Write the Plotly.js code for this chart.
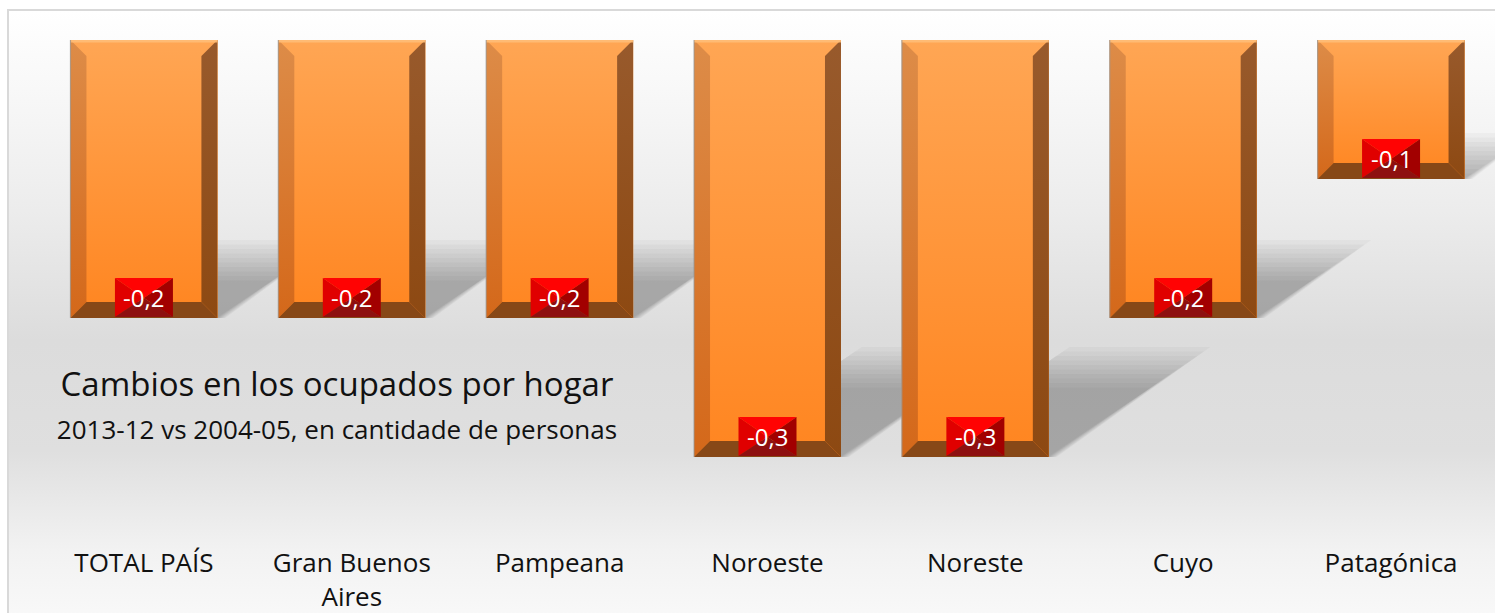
<!DOCTYPE html>
<html>
<head>
<meta charset="utf-8">
<script src="https://cdn.plot.ly/plotly-3.0.1.min.js"></script>
<style>
  html, body { margin:0; padding:0; width:1495px; height:613px; overflow:hidden; background:#ffffff; }
  #frame { position:absolute; left:7px; top:9px; width:1500px; height:620px; border:2px solid #d9d9d9;
    background: linear-gradient(to bottom, #ffffff 0px, #f6f6f6 100px, #ececec 200px, #dcdcdc 330px, #dfdfdf 440px, #f2f2f2 540px, #fafafa 620px); }
  #chart { position:absolute; left:0; top:0; width:1495px; height:613px; }
</style>
</head>
<body>
<div id="frame"></div>
<div id="chart"></div>
<script>
// ---- data ----
const categories = ['TOTAL PAÍS', 'Gran Buenos<br>Aires', 'Pampeana', 'Noroeste', 'Noreste', 'Cuyo', 'Patagónica'];
const values = [-0.2, -0.2, -0.2, -0.3, -0.3, -0.2, -0.1];
const titleMain = 'Cambios en los ocupados por hogar';
const titleSub = '2013-12 vs 2004-05, en cantidade de personas';

// ---- layout geometry ----
const W = 1495, H = 613;
const M = {l: 40, r: 0, t: 40, b: 68};
const plotW = W - M.l - M.r, plotH = H - M.t - M.b;
const xRange = [-0.5, categories.length - 0.5];
const yRange = [-0.3633, 0];
const ppx = plotW / (xRange[1] - xRange[0]);
const ppy = plotH / (yRange[1] - yRange[0]);
const barFrac = 0.707;
const hw = barFrac / 2;
const bx = 16 / ppx, by = 16 / ppy;
const idx = categories.map((_, i) => i);
const fmt = v => v.toFixed(1).replace('.', ',');

const traces = [];
// main bars
traces.push({
  type: 'bar', x: idx, y: values, width: barFrac,
  marker: {color: '#ff9535', line: {width: 0}},
  hoverinfo: 'skip', showlegend: false
});

function poly(xs, ys, grad, solid) {
  const t = {
    type: 'scatter', mode: 'lines', x: xs.concat([xs[0]]), y: ys.concat([ys[0]]),
    fill: 'toself', line: {width: 0, color: 'rgba(0,0,0,0)'},
    hoverinfo: 'skip', showlegend: false
  };
  if (grad) t.fillgradient = {type: 'vertical', colorscale: grad};
  else t.fillcolor = solid;
  return t;
}

values.forEach((v, i) => {
  const x0 = i - hw, x1 = i + hw;
  traces.push(poly([x0, x1, x1, x0], [0, 0, v, v], [[0, '#ff8520'], [1, '#ffa654']]));
  traces.push(poly([x0, x0 + bx, x0 + bx, x0], [0, -by, v + by, v], [[0, '#d4681a'], [1, '#dd8c48']]));
  traces.push(poly([x1, x1 - bx, x1 - bx, x1], [0, -by, v + by, v], [[0, '#8d4912'], [1, '#985a2c']]));
  traces.push(poly([x0, x0 + bx, x1 - bx, x1], [v, v + by, v + by, v], null, '#874817'));
});

const shapes = [];
// soft shadows behind bars (layered for blur)
values.forEach((v, i) => {
  const x0 = i - hw, x1 = i + hw;
  const hPx = 0.23 * Math.abs(v) * ppy;
  const N = 10;
  for (let k = 0; k < N; k++) {
    const hk = hPx + 14 - k * 4.5;
    const sk = 1.47 * hk;
    const yTop = v + hk / ppy;
    const shift = sk / ppx;
    const xl = x0 + 6 / ppx;
    shapes.push({
      type: 'path', layer: 'below', xref: 'x', yref: 'y',
      path: `M${xl},${v} L${x1 + (8 - k) / ppx},${v} L${x1 + shift},${yTop} L${xl + shift},${yTop} Z`,
      fillcolor: 'rgba(0,0,0,0.026)', line: {width: 0}
    });
  }
});
// top highlight, left edge line + label boxes
values.forEach((v, i) => {
  const x0 = i - hw, x1 = i + hw;
  shapes.push({type: 'line', xref: 'x', yref: 'y', x0: x0, x1: x1, y0: -1 / ppy, y1: -1 / ppy,
    line: {color: 'rgba(255,190,120,0.9)', width: 3}, layer: 'above'});
  shapes.push({type: 'line', xref: 'x', yref: 'y', x0: x0, x1: x0, y0: 0, y1: v,
    line: {color: 'rgba(150,150,150,0.7)', width: 1.2}, layer: 'above'});
  const tri = [
    ['M-29,40 L29,40 L0,20 Z', '#ff0303'],
    ['M-29,40 L-29,1 L0,20 Z', '#e00000'],
    ['M29,40 L29,1 L0,20 Z', '#a20000'],
    ['M-29,1 L29,1 L0,20 Z', '#8e1010']
  ];
  tri.forEach(([p, c]) => shapes.push({
    type: 'path', layer: 'above', xref: 'x', yref: 'y',
    xsizemode: 'pixel', ysizemode: 'pixel', xanchor: i, yanchor: v,
    path: p, fillcolor: c, line: {width: 0}
  }));
});

const annotations = values.map((v, i) => ({
  x: i, y: v, xref: 'x', yref: 'y', yanchor: 'middle', yshift: 21,
  text: fmt(v), showarrow: false,
  font: {family: 'Open Sans', size: 24, color: '#ffffff'}
}));

const layout = {
  width: W, height: H, margin: M,
  paper_bgcolor: 'rgba(0,0,0,0)', plot_bgcolor: 'rgba(0,0,0,0)',
  showlegend: false, barmode: 'overlay',
  separators: ',.',
  title: {
    text: titleMain + '<br><span style="font-size:26px">' + titleSub + '</span>',
    x: 337 / W, xanchor: 'center', xref: 'container',
    y: 1 - 396 / H, yanchor: 'middle', yref: 'container',
    font: {family: 'Open Sans', size: 33, color: '#111111'}
  },
  xaxis: {
    range: xRange, tickvals: idx, ticktext: categories,
    showgrid: false, zeroline: false, showline: false, ticks: '',
    tickfont: {family: 'Open Sans', size: 26, color: '#111111'},
    fixedrange: true
  },
  yaxis: {range: yRange, visible: false, fixedrange: true},
  shapes: shapes, annotations: annotations
};

Plotly.newPlot('chart', traces, layout, {displayModeBar: false, staticPlot: true});
</script>
</body>
</html>
